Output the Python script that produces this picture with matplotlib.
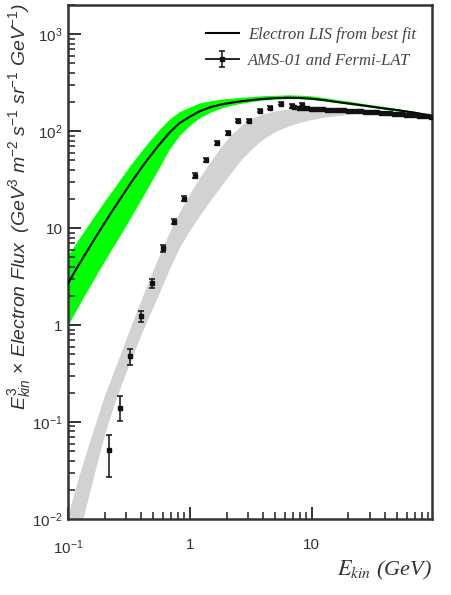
import matplotlib
matplotlib.use("Agg")
import matplotlib.pyplot as plt
from matplotlib.ticker import FixedLocator, FixedFormatter, LogLocator, NullFormatter
from matplotlib.lines import Line2D
from matplotlib.legend_handler import HandlerTuple

plt.rcParams['mathtext.fontset'] = 'custom'
plt.rcParams['mathtext.rm'] = 'Liberation Sans'
plt.rcParams['mathtext.it'] = 'Liberation Sans:italic'
plt.rcParams['font.family'] = ['Liberation Sans', 'DejaVu Sans']

# ---------------- data ----------------
# Electron LIS from best fit (line) and its green uncertainty band
lis_energy = [0.1, 0.12, 0.14, 0.17, 0.2, 0.24, 0.28, 0.33, 0.4, 0.47, 0.56, 0.68,
              0.82, 1.0, 1.2, 1.5, 1.8, 2.2, 2.7, 3.3, 4.0, 5.0, 6.5, 8.0, 10,
              13, 16, 20, 30, 40, 50, 70, 97]
lis_flux = [2.69, 4.0, 5.5, 8.18, 11.35, 16.2, 21.7, 29.6, 41.7, 54.8, 72.6, 96.4,
            120.5, 141, 160, 178, 188, 197, 204, 210, 215, 219, 221, 220, 216,
            208, 200, 193, 180, 171, 165, 155, 144]
band_upper = [5.25, 7.45, 9.9, 14.2, 19.1, 26.2, 34.4, 45.8, 62.4, 80.2, 103.8, 133,
              159, 178, 195, 207, 214, 219, 224, 228, 232, 234, 237, 235, 231,
              221, 212, 204, 188, 179, 171, 160, 149]
band_lower = [1.0, 1.52, 2.14, 3.26, 4.62, 6.75, 9.25, 13.2, 20.0, 28.5, 42.2, 65.2,
              90.4, 115, 137, 158, 173, 185, 195, 203, 209, 214, 217, 216, 212,
              204, 197, 189, 177, 168, 162, 152, 141]

# grey band
gray_energy = [0.1, 0.12, 0.14, 0.17, 0.2, 0.24, 0.28, 0.33, 0.4, 0.47, 0.56, 0.68,
               0.82, 1.0, 1.2, 1.5, 1.8, 2.2, 2.7, 3.3, 4.0, 5.0, 6.5, 8.0, 10,
               13, 16, 20]
gray_upper = [0.0112, 0.0251, 0.0479, 0.102, 0.191, 0.347, 0.575, 1.0, 1.86, 3.09,
              5.25, 9.12, 14.6, 22.9, 33.1, 50.1, 69.2, 93.3, 117.5, 138, 151, 162,
              170, 173, 174, 172, 169, 166]
gray_lower = [0.00245, 0.0062, 0.0132, 0.0347, 0.0759, 0.155, 0.263, 0.447, 0.813,
              1.30, 2.15, 3.8, 6.3, 9.55, 13.5, 20.0, 27.2, 38.0, 52.5, 67.6, 83.2,
              98.9, 113.5, 123, 132, 140, 144.5, 150]

# AMS-01 points
ams_energy = [0.217, 0.266, 0.321, 0.396, 0.487, 0.60, 0.74, 0.89, 1.10, 1.35, 1.67,
              2.05, 2.48, 3.05, 3.76, 4.54, 5.59, 6.88, 8.32]
ams_flux = [0.051, 0.14, 0.48, 1.24, 2.70, 6.2, 11.7, 20.2, 34.8, 50.8, 76,
            96, 128, 128, 162, 174, 191, 182, 187]
ams_err_low = [0.0236, 0.037, 0.09, 0.17, 0.3, 0.5, 0.8, 1.2, 1.8, 2.5, 3.5,
               4.0, 5.0, 5.0, 6.0, 6.0, 7.0, 7.0, 7.0]
ams_err_high = [0.023, 0.046, 0.09, 0.17, 0.3, 0.5, 0.8, 1.2, 1.8, 2.5, 3.5,
                4.0, 5.0, 5.0, 6.0, 6.0, 7.0, 7.0, 7.0]

# Fermi-LAT points
fermi_energy = [7.2, 7.8, 8.4, 9.1, 9.8, 10.6, 11.5, 12.4, 13.4, 14.5, 15.7, 17.0,
                18.4, 19.9, 21.5, 23.3, 25.2, 27.3, 29.5, 31.9, 34.5, 37.3, 40.4,
                43.7, 47.3, 51.2, 55.4, 59.9, 64.8, 70.1, 75.9, 82.1, 88.8, 96.0]
fermi_flux = [176, 175, 173, 172, 170, 170, 169, 168, 167, 167, 166, 164,
              164, 163, 162, 162, 160, 159, 158, 157, 156, 155, 154,
              153, 151, 150, 149, 148, 147, 146, 144, 143, 142, 140]
fermi_err = [3, 3, 3, 3, 3, 3, 3, 3, 3, 3, 3, 3,
             3, 3, 3, 3, 3, 3, 3, 3, 3, 3, 3,
             3, 3, 3, 3, 3, 3, 3, 3, 3, 3, 3]

x_tick_values = [0.1, 1, 10]
x_tick_labels = [r'$10^{-1}$', '1', '10']
y_tick_values = [0.01, 0.1, 1, 10, 100, 1000]
y_tick_labels = [r'$10^{-2}$', r'$10^{-1}$', '1', '10', r'$10^{2}$', r'$10^{3}$']

legend_labels = ['Electron LIS from best fit', 'AMS-01 and Fermi-LAT']

# ---------------- figure ----------------
fig = plt.figure(figsize=(4.52, 5.95), dpi=100)
ax = fig.add_axes([68 / 452, 1 - 519 / 595, (432 - 68) / 452, (519 - 5) / 595])

ax.set_xscale('log')
ax.set_yscale('log')
ax.set_xlim(0.1, 97)
ax.set_ylim(0.01, 2000)

ax.fill_between(lis_energy, band_lower, band_upper, color='#00ff00', lw=0, zorder=1)
ax.fill_between(gray_energy, gray_lower, gray_upper, color='#d2d2d2', lw=0, zorder=2)
lis_line, = ax.plot(lis_energy, lis_flux, color='black', lw=1.5, zorder=3)

eb = ax.errorbar(ams_energy, ams_flux, yerr=[ams_err_low, ams_err_high], fmt='s',
                 color='#111111', ms=3.5, capsize=2.5, elinewidth=1.1, capthick=1.1,
                 zorder=4)
ax.errorbar(fermi_energy, fermi_flux, yerr=fermi_err, fmt='s', color='#111111',
            ms=3.2, capsize=0, elinewidth=1.1, zorder=4)

for side in ['top', 'right', 'left', 'bottom']:
    ax.spines[side].set_linewidth(1.8)
    ax.spines[side].set_color('#333333')

ax.xaxis.set_major_locator(FixedLocator(x_tick_values))
ax.xaxis.set_major_formatter(FixedFormatter(x_tick_labels))
ax.xaxis.set_minor_locator(LogLocator(base=10, subs=range(2, 10), numticks=20))
ax.xaxis.set_minor_formatter(NullFormatter())
ax.yaxis.set_major_locator(FixedLocator(y_tick_values))
ax.yaxis.set_major_formatter(FixedFormatter(y_tick_labels))
ax.yaxis.set_minor_locator(LogLocator(base=10, subs=range(2, 10), numticks=20))
ax.yaxis.set_minor_formatter(NullFormatter())

ax.tick_params(which='both', direction='in', top=False, right=False, color='#222222')
ax.tick_params(which='major', length=9, width=1.3, labelsize=11, labelcolor='#333333')
ax.tick_params(which='minor', length=5, width=1.1)
ax.tick_params(axis='x', which='major', pad=14)
ax.tick_params(axis='y', which='major', pad=4)

# labels
fig.text(20 / 452, 1 - 3 / 595,
         r'$E^{3}_{kin}$ $\times$ Electron Flux  (GeV$^{3}$ m$^{-2}$ s$^{-1}$ sr$^{-1}$ GeV$^{-1}$)',
         rotation=90, ha='center', va='top', fontsize=14, style='italic',
         family='Liberation Sans', color='#333333')
fig.text(432 / 452, 1 - 570 / 595, r'$E_{kin}$ (GeV)', ha='right', va='center',
         fontsize=16, family='Liberation Serif', style='italic', math_fontfamily='stix',
         color='#333333')

hline = Line2D([], [], color='#111111', lw=1.3)
leg = ax.legend([lis_line, (hline, eb)], legend_labels,
                handler_map={tuple: HandlerTuple(ndivide=1)},
                loc='upper left', bbox_to_anchor=((199 - 68) / 364, 1 - 15 / 514),
                frameon=False, handlelength=2.0, handletextpad=0.55, labelspacing=0.6,
                borderaxespad=0,
                prop={'family': 'Liberation Serif', 'style': 'italic', 'size': 12})
for t in leg.get_texts():
    t.set_color('#444444')

fig.savefig('out.png', dpi=100)
